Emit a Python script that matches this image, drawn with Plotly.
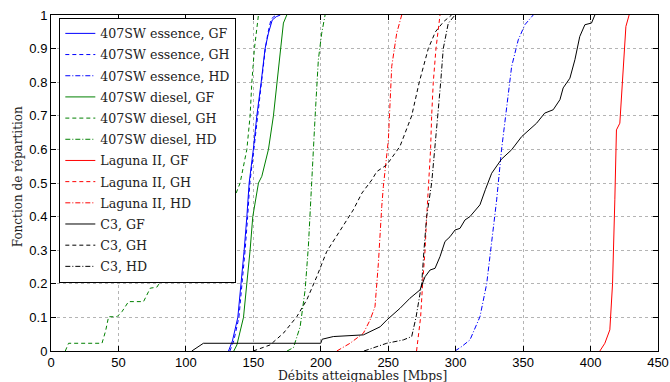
import plotly.graph_objects as go

# ---- data ----
es_gf_x = [131.6, 134.5, 138.5, 141.0, 143.2, 145.2, 146.9, 150.0, 152.6, 155.8, 158.7, 161.2, 164.0, 167.0, 170.0]
es_gf_y = [0.0, 0.03, 0.1, 0.2, 0.3, 0.4, 0.5, 0.6, 0.7, 0.8, 0.9, 0.946, 0.985, 0.995, 1.0]
es_gh_x = [132.6, 135.5, 139.3, 141.8, 143.9, 145.8, 147.4, 150.4, 153.1, 156.2, 158.9, 160.8, 163.0, 165.0, 167.5]
es_gh_y = [0.0, 0.03, 0.1, 0.2, 0.3, 0.4, 0.5, 0.6, 0.7, 0.8, 0.9, 0.946, 0.985, 0.995, 1.0]
es_hd_x = [299.5, 304.4, 310.6, 318.0, 323.0, 326.7, 330.4, 334.0, 337.8, 341.5, 346.4, 351.3, 357.5]
es_hd_y = [0.0, 0.013, 0.033, 0.102, 0.2, 0.32, 0.45, 0.599, 0.728, 0.847, 0.926, 0.971, 1.0]

di_gf_x = [135.5, 137.8, 142.7, 145.2, 147.6, 149.6, 153.8, 156.3, 161.2, 164.9, 167.4, 169.9, 172.3, 174.8]
di_gf_y = [0.0, 0.018, 0.1, 0.2, 0.3, 0.4, 0.5, 0.52, 0.6, 0.7, 0.8, 0.9, 0.976, 1.0]
di_gh_x = [10.6, 13.0, 37.8, 40.5, 42.7, 48.9, 52.6, 57.5, 68.6, 73.6, 78.5, 83.4, 95.0, 110.0, 122.0, 132.8, 135.3,
           140.2, 145.2, 147.6, 148.9, 150.8, 153.8]
di_gh_y = [0.0, 0.023, 0.023, 0.06, 0.102, 0.102, 0.117, 0.147, 0.147, 0.187, 0.19, 0.221, 0.27, 0.32, 0.37, 0.41, 0.45,
           0.5, 0.6, 0.7, 0.8, 0.9, 1.0]
di_hd_x = [175.0, 179.7, 184.7, 188.4, 190.8, 192.6, 195.8, 198.2, 200.7, 203.2]
di_hd_y = [0.0, 0.01, 0.072, 0.182, 0.311, 0.46, 0.698, 0.867, 0.946, 1.0]

la_gf_x = [406.9, 410.6, 414.3, 416.3, 418.0, 419.2, 421.7, 424.1, 426.2, 428.6]
la_gf_y = [0.0, 0.023, 0.063, 0.2, 0.45, 0.658, 0.678, 0.847, 0.966, 1.0]
la_gh_x = [271.0, 274.0, 275.5, 277.3, 278.5, 280.2, 281.4, 282.2, 283.4, 285.4, 288.4]
la_gh_y = [0.0, 0.1, 0.2, 0.3, 0.4, 0.5, 0.6, 0.7, 0.8, 0.9, 1.0]
la_hd_x = [211.9, 221.7, 231.6, 236.5, 240.2, 242.7, 245.2, 246.4, 250.1, 252.6, 256.3, 260.0]
la_hd_y = [0.0, 0.023, 0.053, 0.092, 0.132, 0.261, 0.43, 0.49, 0.628, 0.847, 0.946, 1.0]

c3_gf_x = [104.4, 113.0, 200.0, 201.0, 209.3, 231.6, 244.0, 248.9, 258.7, 266.1, 273.6, 277.3, 281.0, 284.7, 288.4,
           292.1, 295.8, 299.5, 303.2, 306.9, 310.6, 318.0, 322.0, 326.7, 334.0, 341.5, 348.9, 360.0, 366.0, 372.3,
           377.3, 379.7, 384.7, 388.4, 392.0, 395.8, 400.7, 403.2]
c3_gf_y = [0.0, 0.023, 0.023, 0.035, 0.043, 0.048, 0.072, 0.092, 0.127, 0.157, 0.182, 0.221, 0.241, 0.246, 0.281,
           0.326, 0.34, 0.36, 0.365, 0.39, 0.4, 0.435, 0.48, 0.529, 0.571, 0.599, 0.638, 0.678, 0.708, 0.718,
           0.748, 0.783, 0.812, 0.867, 0.936, 0.971, 0.976, 1.0]
c3_gh_x = [150.0, 162.4, 172.3, 182.2, 189.6, 197.0, 204.4, 214.3, 224.1, 230.5, 237.8, 241.5, 248.9, 258.7, 267.4,
           273.0, 279.7, 285.0, 291.0, 297.0]
c3_gh_y = [0.0, 0.018, 0.053, 0.102, 0.152, 0.221, 0.296, 0.36, 0.42, 0.47, 0.509, 0.534, 0.554, 0.609, 0.7,
           0.8, 0.9, 0.95, 0.98, 1.0]
c3_hd_x = [232.0, 248.9, 261.2, 267.4, 270.6, 274.8, 276.5, 278.5, 282.2, 284.7, 286.7, 288.9, 290.8, 294.5, 299.5]
c3_hd_y = [0.0, 0.023, 0.033, 0.043, 0.1, 0.2, 0.3, 0.4, 0.5, 0.6, 0.7, 0.8, 0.9, 0.975, 1.0]

series = [
    ("407SW essence, GF", es_gf_x, es_gf_y, "#0000ff", "solid"),
    ("407SW essence, GH", es_gh_x, es_gh_y, "#0000ff", "4px,3px"),
    ("407SW essence, HD", es_hd_x, es_hd_y, "#0000ff", "5px,2px,1px,2px"),
    ("407SW diesel, GF", di_gf_x, di_gf_y, "#008000", "solid"),
    ("407SW diesel, GH", di_gh_x, di_gh_y, "#008000", "4px,3px"),
    ("407SW diesel, HD", di_hd_x, di_hd_y, "#008000", "5px,2px,1px,2px"),
    ("Laguna II, GF", la_gf_x, la_gf_y, "#ff0000", "solid"),
    ("Laguna II, GH", la_gh_x, la_gh_y, "#ff0000", "4px,3px"),
    ("Laguna II, HD", la_hd_x, la_hd_y, "#ff0000", "5px,2px,1px,2px"),
    ("C3, GF", c3_gf_x, c3_gf_y, "#000000", "solid"),
    ("C3, GH", c3_gh_x, c3_gh_y, "#000000", "4px,3px"),
    ("C3, HD", c3_hd_x, c3_hd_y, "#000000", "5px,2px,1px,2px"),
]

x_ticks = [0, 50, 100, 150, 200, 250, 300, 350, 400, 450]
y_ticks = [0, 0.1, 0.2, 0.3, 0.4, 0.5, 0.6, 0.7, 0.8, 0.9, 1]
y_tick_text = ["0", "0.1", "0.2", "0.3", "0.4", "0.5", "0.6", "0.7", "0.8", "0.9", "1"]
x_title = "Débits atteignables [Mbps]"
y_title = "Fonction de répartition"

fig = go.Figure()
for i, (name, xs, ys, col, dash) in enumerate(series):
    fig.add_trace(go.Scatter(x=xs, y=ys, mode="lines", name=name, legendgroup="g%d" % i,
                             line=dict(color=col, width=1, dash=dash)))

serif = "DejaVu Serif"
axis_common = dict(ticks="inside", ticklen=5, tickcolor="black",
                   showline=True, linecolor="black", linewidth=1, mirror="allticks",
                   showgrid=True, gridcolor="#b4b4b4", griddash="dot", gridwidth=1, zeroline=False,
                   automargin=False,
                   tickfont=dict(family="Liberation Sans", size=13, color="black"))
fig.update_layout(
    width=670, height=382,
    margin=dict(l=51, r=12, t=15, b=31, autoexpand=False),
    paper_bgcolor="white", plot_bgcolor="white",
    showlegend=True,
    legend=dict(x=0.0137, y=0.992, xanchor="left", yanchor="top",
                bgcolor="white", bordercolor="black", borderwidth=1,
                font=dict(family=serif, size=12.6, color="#222"),
                tracegroupgap=1.8, itemwidth=30),
    xaxis=dict(range=[0, 450], tickvals=x_ticks, ticklabelstandoff=-1, **axis_common),
    yaxis=dict(range=[0, 1], tickvals=y_ticks, ticktext=y_tick_text, **axis_common),
    annotations=[
        dict(text=x_title, xref="paper", yref="paper", x=0.514, y=0, xanchor="center", yanchor="middle",
             yshift=-24.7, showarrow=False, font=dict(family=serif, size=12.3, color="#222")),
        dict(text=y_title, xref="paper", yref="paper", x=0, y=0.517, xanchor="center", yanchor="middle",
             xshift=-33, textangle=-90, showarrow=False, font=dict(family=serif, size=12, color="#222")),
    ],
)

fig.write_html("out.html", config={"displayModeBar": False},
               post_script="document.body.style.margin='0';document.body.style.overflow='hidden';")
